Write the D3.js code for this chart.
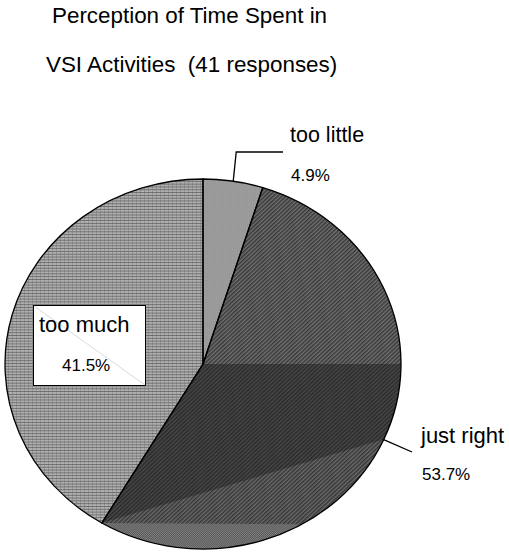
<!DOCTYPE html>
<html>
<head>
<meta charset="utf-8">
<script src="https://cdn.jsdelivr.net/npm/d3@7"></script>
<style>
  html, body { margin: 0; padding: 0; background: #fff; }
  svg { display: block; }
  text { font-family: "Liberation Sans", Arial, sans-serif; fill: #000; white-space: pre; }
</style>
</head>
<body>
<svg id="chart" width="509" height="552"></svg>
<script>
// ---- data ----
const titleLines = ["Perception of Time Spent in", "VSI Activities  (41 responses)"];
const categories = ["too little", "just right", "too much"];
const counts = [2, 22, 17];
const percentLabels = ["4.9%", "53.7%", "41.5%"];

// ---- layout ----
const W = 509, H = 552;
const cx = 203, cy = 364, rx = 198, ry = 185;

const svg = d3.select("#chart");
const defs = svg.append("defs");

// patterns
const pLittle = defs.append("pattern").attr("id", "pLittle")
  .attr("patternUnits", "userSpaceOnUse").attr("width", 2).attr("height", 2);
pLittle.append("rect").attr("width", 2).attr("height", 2).attr("fill", "#9c9c9c");
pLittle.append("rect").attr("width", 1).attr("height", 1).attr("fill", "#949494");

const pMuch = defs.append("pattern").attr("id", "pMuch")
  .attr("patternUnits", "userSpaceOnUse").attr("width", 4).attr("height", 3);
pMuch.append("rect").attr("width", 4).attr("height", 3).attr("fill", "#b0b0b0");
pMuch.append("rect").attr("y", 2).attr("width", 4).attr("height", 1).attr("fill", "#6e6e6e");
pMuch.append("rect").attr("x", 1).attr("y", 0).attr("width", 1).attr("height", 2).attr("fill", "#959595");

function diagPattern(id, bg, fg, w) {
  const p = defs.append("pattern").attr("id", id)
    .attr("patternUnits", "userSpaceOnUse").attr("width", 3).attr("height", 3)
    .attr("patternTransform", "rotate(-45)");
  p.append("rect").attr("width", 3).attr("height", 3).attr("fill", bg);
  p.append("rect").attr("width", 3).attr("height", w).attr("fill", fg);
}
diagPattern("pRightDark", "#4a4a4a", "#2a2a2a", 1.6);
diagPattern("pRightMid", "#707070", "#383838", 1.5);
diagPattern("pRightLow", "#6a6a6a", "#353535", 1.5);

const pBottom = defs.append("pattern").attr("id", "pBottom")
  .attr("patternUnits", "userSpaceOnUse").attr("width", 2).attr("height", 2);
pBottom.append("rect").attr("width", 2).attr("height", 2).attr("fill", "#828282");
pBottom.append("rect").attr("width", 1).attr("height", 1).attr("fill", "#555555");
pBottom.append("rect").attr("x", 1).attr("y", 1).attr("width", 1).attr("height", 1).attr("fill", "#555555");

const fills = ["url(#pLittle)", "url(#pRightDark)", "url(#pMuch)"];

// title
svg.append("text").attr("x", 52).attr("y", 23).attr("font-size", 22.4).text(titleLines[0]);
svg.append("text").attr("x", 46).attr("y", 72).attr("font-size", 22.4).text(titleLines[1]);

// pie
const pie = d3.pie().sort(null).value(d => d)(counts);
const arc = d3.arc().innerRadius(0).outerRadius(rx);

const g = svg.append("g")
  .attr("transform", `translate(${cx},${cy}) scale(1,${ry / rx})`);

g.selectAll("path.slice").data(pie).join("path")
  .attr("class", "slice")
  .attr("d", arc)
  .attr("fill", (d, i) => fills[i]);

// moire-like shading inside the "just right" slice
const jr = pie[1];
const clip = defs.append("clipPath").attr("id", "clipJR");
clip.append("path").attr("d", arc(jr));
const gj = g.append("g").attr("clip-path", "url(#clipJR)");
gj.append("path")
  .attr("d", arc({ startAngle: jr.startAngle, endAngle: Math.PI / 2 }))
  .attr("fill", "url(#pRightMid)");
function pt(a) { return [rx * Math.sin(a), -rx * Math.cos(a)]; }
function segment(a0, a1) {
  const p0 = pt(a0), p1 = pt(a1);
  return `M${p0[0]},${p0[1]}A${rx},${rx} 0 0 0 ${p1[0]},${p1[1]}Z`;
}
gj.append("path").attr("d", segment(jr.endAngle, 114 * Math.PI / 180))
  .attr("fill", "url(#pRightLow)");
gj.append("path").attr("d", segment(jr.endAngle, 150 * Math.PI / 180))
  .attr("fill", "url(#pBottom)");

// outlines
g.selectAll("path.outline").data(pie).join("path")
  .attr("class", "outline")
  .attr("d", arc)
  .attr("fill", "none")
  .attr("stroke", "#000")
  .attr("stroke-width", 1.3)
  .attr("vector-effect", "non-scaling-stroke");

// helper: point on ellipse edge for angle
function edge(a) { return [cx + rx * Math.sin(a), cy - ry * Math.cos(a)]; }
const mid = pie.map(d => (d.startAngle + d.endAngle) / 2);

const line = d3.line();
// too little
const e0 = edge(mid[0]);
svg.append("path").attr("d", line([e0, [e0[0] + 3, 152], [283, 152]]))
  .attr("fill", "none").attr("stroke", "#000").attr("stroke-width", 1.3);
svg.append("text").attr("x", 290).attr("y", 142).attr("font-size", 21.5).text(categories[0]);
svg.append("text").attr("x", 291).attr("y", 181).attr("font-size", 17).text(percentLabels[0]);

// just right
const e1 = edge(mid[1]);
svg.append("path").attr("d", line([e1, [412, 452]]))
  .attr("fill", "none").attr("stroke", "#000").attr("stroke-width", 1.3);
svg.append("text").attr("x", 421).attr("y", 443).attr("font-size", 22).text(categories[1]);
svg.append("text").attr("x", 422).attr("y", 480).attr("font-size", 17).text(percentLabels[1]);

// too much (boxed label)
svg.append("rect").attr("x", 33.5).attr("y", 305.5).attr("width", 112).attr("height", 80)
  .attr("fill", "#fff").attr("stroke", "#000").attr("stroke-width", 1);
svg.append("path").attr("d", line([[34, 306], [145, 385]]))
  .attr("stroke", "#d0d0d0").attr("stroke-width", 0.8);
svg.append("text").attr("x", 39).attr("y", 332).attr("font-size", 22).text(categories[2]);
svg.append("text").attr("x", 62).attr("y", 371).attr("font-size", 17).text(percentLabels[2]);
</script>
</body>
</html>
